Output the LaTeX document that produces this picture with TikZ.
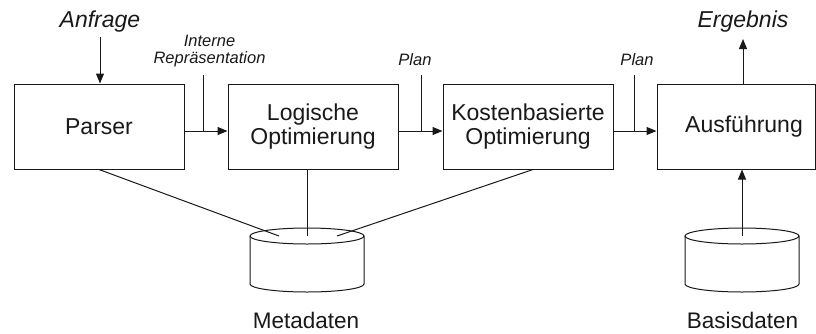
\documentclass[tikz,border=0pt]{standalone}
\usepackage{fontspec}
\setmainfont{Liberation Sans}
\usetikzlibrary{arrows.meta}
\begin{document}
\begin{tikzpicture}[x=1pt,y=-1pt,
  line/.style={draw=black!90, line width=1pt},
  arr/.style={line, -{Triangle[length=10pt,width=8pt]}},
  stage/.style={draw=black!90, line width=1pt, minimum width=170pt,
    minimum height=85pt, inner sep=0pt, align=center, text=black!90,
    font=\fontsize{23}{24}\selectfont},
  biglabel/.style={anchor=base, text=black!90, font=\fontsize{23}{24}\selectfont\itshape},
  smalllabel/.style={text=black!90, align=center, inner sep=0pt,
    font=\fontsize{16.5}{17}\selectfont\itshape},
  planlabel/.style={anchor=base, text=black!90, font=\fontsize{16.5}{17}\selectfont\itshape},
  dblabel/.style={anchor=base, text=black!90, font=\fontsize{22.5}{24}\selectfont},
  db/.style={line, fill=white}
]
\useasboundingbox (0,0) rectangle (816,333);

% processing stages
\node[stage] (parser) at (99,126.5) {Parser};
\node[stage] (logic)  at (313,126.5) {Logische\\Optimierung};
\node[stage] (cost)   at (528,126.5) {Kostenbasierte\\Optimierung};
\node[stage, minimum width=158pt] (exec) at (736,126.5) {\hspace{16pt}Ausführung};

% data stores (cylinders)
\coordinate (meta) at (307,236);
\coordinate (base) at (742,236);
\foreach \c in {meta,base}{
  \draw[db] ([xshift=-57pt]\c) -- ++(0,48)
    arc[start angle=180, end angle=360, x radius=57pt, y radius=8pt]
    -- ++(0,-48);
  \draw[db] (\c) ellipse[x radius=57pt, y radius=8pt];
}
\node[dblabel] (metalbl) at (306,328) {Metadaten};
\node[dblabel] (baselbl) at (742.5,328) {Basisdaten};

% query in, result out
\node[biglabel] (query)  at (100,27) {Anfrage};
\node[biglabel] (result) at (743,27) {Ergebnis};
\coordinate (qtop) at (100,37);
\coordinate (rtop) at (743,39);
\draw[arr] (qtop) -- (qtop |- parser.north);
\draw[arr] (rtop |- exec.north) -- (rtop);

% flow between the stages
\coordinate (a1) at ([yshift=-4.5pt]parser.east);
\coordinate (a2) at ([yshift=-4.5pt]logic.east);
\coordinate (a3) at ([yshift=-4.5pt]cost.east);
\draw[arr] (a1) -- (a1 -| logic.west);
\draw[arr] (a2) -- (a2 -| cost.west);
\draw[arr] (a3) -- (a3 -| exec.west);

% intermediate results
\node[smalllabel] (rep) at (209.5,51) {Interne\\Repräsentation};
\node[planlabel] (plan1) at (415,65.5) {Plan};
\node[planlabel] (plan2) at (637,65.5) {Plan};
\coordinate (s1) at (203,75);
\coordinate (s2) at (421,75);
\coordinate (s3) at (634,75);
\draw[line] (s1) -- (s1 |- a1);
\draw[line] (s2) -- (s2 |- a2);
\draw[line] (s3) -- (s3 |- a3);

% metadata access
\draw[line] (parser.south) -- (279,236);
\draw[line] (meta |- logic.south) -- (meta);
\draw[line] ([xshift=5pt]cost.south) -- (337,236);

% base data feeds the execution
\draw[arr] (base) -- (base |- exec.south);
\end{tikzpicture}
\end{document}
